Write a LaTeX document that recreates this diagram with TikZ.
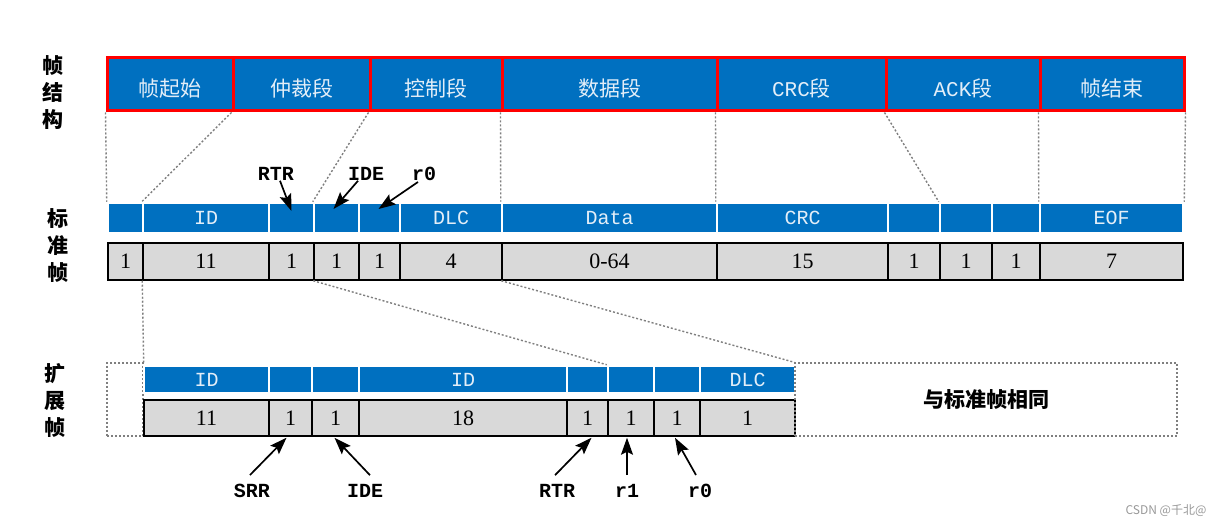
\documentclass[tikz,border=0pt]{standalone}
\usepackage{fontspec}
\setmainfont{Liberation Serif}
\newfontfamily\cjk{Noto Sans CJK SC}
\newfontfamily\monof{Liberation Mono}
\usetikzlibrary{arrows.meta,calc}
\definecolor{cblue}{HTML}{0070C0}
\definecolor{cgray}{HTML}{D9D9D9}
\definecolor{ctxt}{HTML}{E3EEF8}
\definecolor{cguide}{HTML}{7F7F7F}
\newcommand\cellbox[7]{\node[#2, minimum width={#4-#3}, minimum height={#6-#5}] (#1) at ({(#3+#4)/2},{(#5+#6)/2}) {#7};}
\tikzset{
 topbox/.style={fill=cblue, draw=red, line width=3pt, inner sep=0pt, text=ctxt, text height=24pt, text depth=0pt, font=\cjk\fontsize{21}{21}\selectfont},
 bluecell/.style={fill=cblue, draw=white, line width=2.5pt, inner sep=0pt, text=ctxt, font=\monof\fontsize{20}{20}\selectfont},
 graycell/.style={fill=cgray, draw=black, line width=1.5pt, inner sep=0pt, font=\fontsize{22}{22}\selectfont},
 dotbox/.style={draw=cguide, line width=1.4pt, dash pattern=on 2pt off 2pt, inner sep=0pt},
 guide/.style={draw=cguide, line width=1.4pt, dash pattern=on 2pt off 2pt},
 tag/.style={font=\monof\bfseries\fontsize{20}{20}\selectfont, inner sep=1pt},
 arr/.style={line width=1.7pt, -{Stealth[length=17pt,width=12pt,inset=3pt]}},
 side/.style={font=\cjk\bfseries\fontsize{21}{27}\selectfont, align=center, inner sep=0pt},
}
\begin{document}
\begin{tikzpicture}[x=1pt,y=-1pt]
\useasboundingbox[fill=white] (0,0) rectangle (1224,526);
% side labels
\node[side] (s1) at (53,93) {帧\\结\\构};
\node[side] (s2) at (58,246) {标\\准\\帧};
\node[side] (s3) at (55,400) {扩\\展\\帧};
% top row
\cellbox{t1}{topbox}{107}{233}{58}{111}{帧起始}
\cellbox{t2}{topbox}{233}{370}{58}{111}{仲裁段}
\cellbox{t3}{topbox}{370}{502}{58}{111}{控制段}
\cellbox{t4}{topbox}{502}{717}{58}{111}{数据段}
\cellbox{t5}{topbox}{717}{886}{58}{111}{{\monof\fontsize{21}{21}\selectfont CRC}段}
\cellbox{t6}{topbox}{886}{1040}{58}{111}{{\monof\fontsize{21}{21}\selectfont ACK}段}
\cellbox{t7}{topbox}{1040}{1184}{58}{111}{帧结束}
% standard blue row
\cellbox{b1}{bluecell}{108}{143}{203}{233}{}
\cellbox{b2}{bluecell}{143}{269}{203}{233}{ID}
\cellbox{b3}{bluecell}{269}{314}{203}{233}{}
\cellbox{b4}{bluecell}{314}{359}{203}{233}{}
\cellbox{b5}{bluecell}{359}{400}{203}{233}{}
\cellbox{b6}{bluecell}{400}{502}{203}{233}{DLC}
\cellbox{b7}{bluecell}{502}{717}{203}{233}{Data}
\cellbox{b8}{bluecell}{717}{888}{203}{233}{CRC}
\cellbox{b9}{bluecell}{888}{940}{203}{233}{}
\cellbox{b10}{bluecell}{940}{992}{203}{233}{}
\cellbox{b11}{bluecell}{992}{1040}{203}{233}{}
\cellbox{b12}{bluecell}{1040}{1183}{203}{233}{EOF}
% standard gray row
\cellbox{g1}{graycell}{108}{143}{243}{280}{1}
\cellbox{g2}{graycell}{143}{269}{243}{280}{11}
\cellbox{g3}{graycell}{269}{314}{243}{280}{1}
\cellbox{g4}{graycell}{314}{359}{243}{280}{1}
\cellbox{g5}{graycell}{359}{400}{243}{280}{1}
\cellbox{g6}{graycell}{400}{502}{243}{280}{4}
\cellbox{g7}{graycell}{502}{717}{243}{280}{0-64}
\cellbox{g8}{graycell}{717}{888}{243}{280}{15}
\cellbox{g9}{graycell}{888}{940}{243}{280}{1}
\cellbox{g10}{graycell}{940}{992}{243}{280}{1}
\cellbox{g11}{graycell}{992}{1040}{243}{280}{1}
\cellbox{g12}{graycell}{1040}{1183}{243}{280}{7}
% guides top -> standard
\draw[guide] (t1.south west) -- (b1.north west);
\draw[guide] (t2.south west) -- (b2.north west);
\draw[guide] (t3.south west) -- (b4.north west);
\draw[guide] (t4.south west) -- (b7.north west);
\draw[guide] (t5.south west) -- (b8.north west);
\draw[guide] (t6.south west) -- (b10.north west);
\draw[guide] (t7.south west) -- (b12.north west);
\draw[guide] (t7.south east) -- (b12.north east);
% top tags
\node[tag] (uRTR) at (276,174) {RTR};
\node[tag] (uIDE) at (366,174) {IDE};
\node[tag] (ur0) at (424,174) {r0};
\draw[arr] ($(uRTR.south)+(4,-1)$) -- ($(b3.center)+(0,-7)$);
\draw[arr] ($(uIDE.south)+(-8,-1)$) -- ($(b4.center)+(-3,-9)$);
\draw[arr] ($(ur0.south)+(-6,0)$) -- ($(b5.center)+(-1,-9)$);
% extended frame
\node[dotbox, minimum width=36, minimum height=73] (leftbox) at (125,399.5) {};
\cellbox{e1}{bluecell}{144}{269}{366}{393}{ID}
\cellbox{e2}{bluecell}{269}{312}{366}{393}{}
\cellbox{e3}{bluecell}{312}{359}{366}{393}{}
\cellbox{e4}{bluecell}{359}{567}{366}{393}{ID}
\cellbox{e5}{bluecell}{567}{608}{366}{393}{}
\cellbox{e6}{bluecell}{608}{654}{366}{393}{}
\cellbox{e7}{bluecell}{654}{700}{366}{393}{}
\cellbox{e8}{bluecell}{700}{795}{366}{393}{DLC}
\cellbox{f1}{graycell}{144}{269}{400}{436}{11}
\cellbox{f2}{graycell}{269}{312}{400}{436}{1}
\cellbox{f3}{graycell}{312}{359}{400}{436}{1}
\cellbox{f4}{graycell}{359}{567}{400}{436}{18}
\cellbox{f5}{graycell}{567}{608}{400}{436}{1}
\cellbox{f6}{graycell}{608}{654}{400}{436}{1}
\cellbox{f7}{graycell}{654}{700}{400}{436}{1}
\cellbox{f8}{graycell}{700}{795}{400}{436}{1}
\node[dotbox, minimum width=382, minimum height=73, font=\cjk\bfseries\fontsize{21}{21}\selectfont] (same) at (986,399.5) {与标准帧相同};
% guides standard -> extended
\draw[guide] (g2.south west) -- (leftbox.north east);
\draw[guide] (g4.south west) -- (e6.north west);
\draw[guide] (g7.south west) -- (same.north west);
% bottom tags
\node[tag] (dSRR) at (252,491) {SRR};
\node[tag] (dIDE) at (365,491) {IDE};
\node[tag] (dRTR) at (557,491) {RTR};
\node[tag] (dr1) at (627,491) {r1};
\node[tag] (dr0) at (700,491) {r0};
\draw[arr] ($(dSRR.north)+(-2,-8)$) -- ($(f2.south)+(-4,1)$);
\draw[arr] ($(dIDE.north)+(5,-8)$) -- ($(f3.south)+(-1,1)$);
\draw[arr] ($(dRTR.north)+(-2,-8)$) -- ($(f5.south)+(4,1)$);
\draw[arr] ($(dr1.north)+(0,-8)$) -- ($(f6.south)+(-4,1)$);
\draw[arr] ($(dr0.north)+(-4,-8)$) -- ($(f7.south)+(-2,1)$);
% watermark
\node[font=\cjk\fontsize{12}{12}\selectfont, text=gray!80, inner sep=0pt] (wm) at (1166,511) {CSDN @千北@};
\end{tikzpicture}
\end{document}
